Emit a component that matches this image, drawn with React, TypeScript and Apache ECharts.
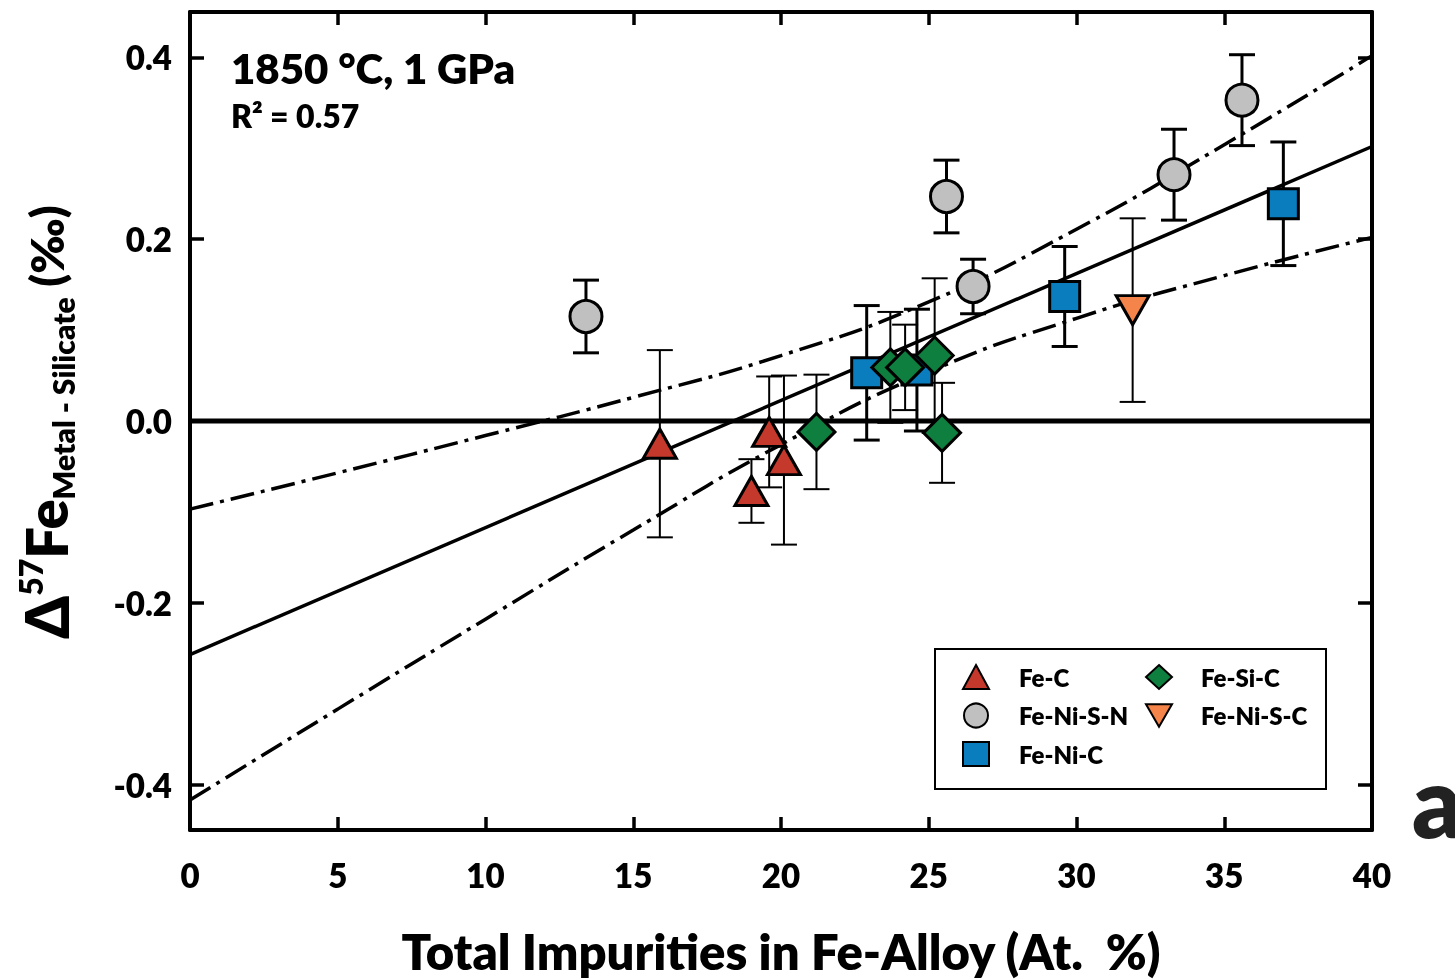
import React, { useEffect, useRef } from "react";
import * as echarts from "echarts";

// ---- data ----
const xTicks = [0, 5, 10, 15, 20, 25, 30, 35, 40];
const yTickValues = [-0.4, -0.2, 0, 0.2, 0.4];

// [x, y, error]
const feC = [
  [15.9, -0.025, 0.103],
  [19.6, -0.012, 0.061],
  [20.1, -0.043, 0.093],
  [19.0, -0.077, 0.035],
];
const feNiSN = [
  [13.4, 0.115, 0.04],
  [25.6, 0.247, 0.04],
  [26.5, 0.148, 0.03],
  [33.3, 0.271, 0.05],
  [35.6, 0.353, 0.05],
];
const feNiC = [
  [22.9, 0.053, 0.074],
  [24.6, 0.056, 0.067],
  [29.6, 0.137, 0.055],
  [37.0, 0.239, 0.068],
];
const feSiC = [
  [21.2, -0.012, 0.063],
  [23.7, 0.059, 0.061],
  [24.2, 0.059, 0.047],
  [25.2, 0.072, 0.085],
  [25.45, -0.013, 0.055],
];
const feNiSC = [[31.9, 0.122, 0.101]];

// regression line and its confidence band (read at x = 0..40)
const fitX = [0, 40];
const fitY = [-0.257, 0.302];
const bandX = [0, 5, 10, 15, 20, 25, 30, 35, 40];
const bandUpper = [-0.097, -0.057, -0.016, 0.026, 0.072, 0.131, 0.211, 0.304, 0.402];
const bandLower = [-0.417, -0.317, -0.218, -0.12, -0.026, 0.054, 0.113, 0.16, 0.202];

const FONT = "Lato";
const W = 800;

export default function App() {
  const ref = useRef<HTMLDivElement>(null);
  useEffect(() => {
    if (!ref.current) return;
    const chart = echarts.init(ref.current, undefined, { renderer: "svg" });

    const errSeries = (data: number[][], w: number) => ({
      type: "custom",
      data,
      encode: { x: 0, y: 1 },
      silent: true,
      z: 3,
      renderItem: (params: any, api: any) => {
        const x = api.value(0);
        const y = api.value(1);
        const e = api.value(2);
        const t = api.coord([x, y + e]);
        const b = api.coord([x, y - e]);
        const hw = 13;
        const st = { stroke: "#000", lineWidth: w };
        return {
          type: "group",
          children: [
            { type: "line", shape: { x1: t[0], y1: t[1], x2: b[0], y2: b[1] }, style: st },
            { type: "line", shape: { x1: t[0] - hw, y1: t[1], x2: t[0] + hw, y2: t[1] }, style: st },
            { type: "line", shape: { x1: b[0] - hw, y1: b[1], x2: b[0] + hw, y2: b[1] }, style: st },
          ],
        };
      },
    });

    const scat = (name: string, data: number[][], symbol: string, size: any, color: string, rot = 0) => ({
      type: "scatter",
      name,
      data: data.map((d) => [d[0], d[1]]),
      symbol,
      symbolSize: size,
      symbolRotate: rot,
      z: 5,
      itemStyle: { color, borderColor: "#000", borderWidth: 3, opacity: 1 },
    });

    const dash = [24, 7, 4, 7];

    const axisCommon = {
      min: 0,
      max: 40,
      interval: 5,
      axisLine: { show: true, onZero: false, lineStyle: { color: "#000", width: 4 } },
      axisTick: { show: true, inside: true, length: 13, lineStyle: { color: "#000", width: 3.5 } },
      splitLine: { show: false },
    };

    const legendText = { fontFamily: FONT, fontWeight: W, fontSize: 24, color: "#000", lineHeight: 26 };

    chart.setOption({
      animation: false,
      grid: { left: 190, right: 83, top: 12, bottom: 150, containLabel: false, outerBoundsMode: "none" },
      xAxis: [
        {
          ...axisCommon,
          type: "value",
          position: "bottom",
          axisLabel: {
            margin: 28,
            fontFamily: FONT,
            fontWeight: W,
            fontSize: 33,
            color: "#000",
            customValues: xTicks,
          },
          name: "Total Impurities in Fe-Alloy (At.  %)",
          nameLocation: "middle",
          nameGap: 96,
          nameTextStyle: { fontFamily: FONT, fontWeight: W, fontSize: 49, color: "#000" },
        },
        { ...axisCommon, type: "value", position: "top", axisLabel: { show: false } },
      ],
      yAxis: [
        {
          type: "value",
          min: -0.45,
          max: 0.45,
          position: "left",
          axisLine: { show: true, onZero: false, lineStyle: { color: "#000", width: 4 } },
          axisTick: {
            show: true,
            inside: true,
            length: 14,
            lineStyle: { color: "#000", width: 3.5 },
            customValues: yTickValues,
          },
          axisLabel: {
            margin: 18,
            fontFamily: FONT,
            fontWeight: W,
            fontSize: 33,
            color: "#000",
            customValues: yTickValues,
            formatter: (v: number) => v.toFixed(1),
          },
          splitLine: { show: false },
        },
        {
          type: "value",
          min: -0.45,
          max: 0.45,
          position: "right",
          axisLine: { show: true, onZero: false, lineStyle: { color: "#000", width: 4 } },
          axisTick: {
            show: true,
            inside: true,
            length: 14,
            lineStyle: { color: "#000", width: 3.5 },
            customValues: yTickValues,
          },
          axisLabel: { show: false },
          splitLine: { show: false },
        },
      ],
      legend: [
        {
          data: ["Fe-C", "Fe-Ni-S-N", "Fe-Ni-C"],
          orient: "vertical",
          left: 957,
          top: 659,
          itemWidth: 26,
          itemHeight: 24,
          itemGap: 12.5,
          itemStyle: { borderWidth: 2 },
          textStyle: { ...legendText, padding: [0, 0, 0, 25] },
          selectedMode: false,
        },
        {
          data: [
            "Fe-Si-C",
            { name: "Fe-Ni-S-C", icon: "path://M0,0 L30,0 L15,26 Z" },
          ],
          orient: "vertical",
          left: 1140,
          top: 659,
          itemWidth: 26,
          itemHeight: 24,
          itemGap: 12.5,
          itemStyle: { borderWidth: 2 },
          textStyle: { ...legendText, padding: [0, 0, 0, 24] },
          selectedMode: false,
        },
      ],
      graphic: [
        {
          type: "rect",
          shape: { x: 935, y: 649, width: 391, height: 140 },
          style: { fill: "none", stroke: "#000", lineWidth: 2 },
          z: 10,
        },
        {
          type: "text",
          left: 231,
          top: 47,
          style: { text: "1850 °C, 1 GPa", fontFamily: FONT, fontWeight: W, fontSize: 42, fill: "#000" },
        },
        {
          type: "text",
          left: 231,
          top: 99,
          style: { text: "R² = 0.57", fontFamily: FONT, fontWeight: W, fontSize: 32, fill: "#000" },
        },
        {
          type: "text",
          x: 1412,
          y: 849,
          style: { text: "a", fontFamily: FONT, fontWeight: W, fontSize: 98, fill: "#222", verticalAlign: "bottom", align: "left" },
        },
        {
          type: "text",
          x: 46,
          y: 422,
          rotation: Math.PI / 2,
          style: {
            text: "{d|Δ}{sup|57}{fe|Fe}{sub|Metal - Silicate}{p| (‰)}",
            align: "center",
            verticalAlign: "middle",
            fill: "#000",
            rich: {
              d: { fontFamily: FONT, fontWeight: W, fontSize: 60, lineHeight: 64, verticalAlign: "middle" },
              sup: { fontFamily: FONT, fontWeight: W, fontSize: 32, lineHeight: 32, verticalAlign: "top" },
              fe: { fontFamily: FONT, fontWeight: W, fontSize: 56, lineHeight: 64, verticalAlign: "middle" },
              sub: { fontFamily: FONT, fontWeight: W, fontSize: 30, lineHeight: 28, verticalAlign: "bottom" },
              p: { fontFamily: FONT, fontWeight: W, fontSize: 46, lineHeight: 64, verticalAlign: "middle" },
            },
          },
        },
      ],
      series: [
        {
          type: "line",
          data: [[0, 0], [40, 0]],
          symbol: "none",
          lineStyle: { color: "#000", width: 5 },
          silent: true,
          z: 1,
        },
        {
          type: "line",
          data: fitX.map((x, i) => [x, fitY[i]]),
          symbol: "none",
          lineStyle: { color: "#000", width: 3.5 },
          silent: true,
          z: 1,
        },
        {
          type: "line",
          data: bandX.map((x, i) => [x, bandUpper[i]]),
          symbol: "none",
          smooth: true,
          lineStyle: { color: "#000", width: 3.5, type: dash },
          silent: true,
          z: 1,
        },
        {
          type: "line",
          data: bandX.map((x, i) => [x, bandLower[i]]),
          symbol: "none",
          smooth: true,
          lineStyle: { color: "#000", width: 3.5, type: dash },
          silent: true,
          z: 1,
        },
        errSeries(feC, 2),
        errSeries(feNiSN, 3),
        errSeries(feNiC, 3),
        errSeries(feSiC, 2),
        errSeries(feNiSC, 2),
        scat("Fe-C", feC, "triangle", [33, 29], "#C5392C"),
        scat("Fe-Ni-S-N", feNiSN, "circle", 32, "#C0C0C0"),
        scat("Fe-Ni-C", feNiC, "rect", 30, "#0A7DBF"),
        scat("Fe-Ni-S-C", feNiSC, "triangle", [33, 29], "#F4844A", 180),
        scat("Fe-Si-C", feSiC, "diamond", 37, "#0E7F3E"),
      ],
    });
    return () => chart.dispose();
  }, []);
  return <div ref={ref} style={{ position: "fixed", left: 0, top: 0, width: 1455, height: 980 }} />;
}
